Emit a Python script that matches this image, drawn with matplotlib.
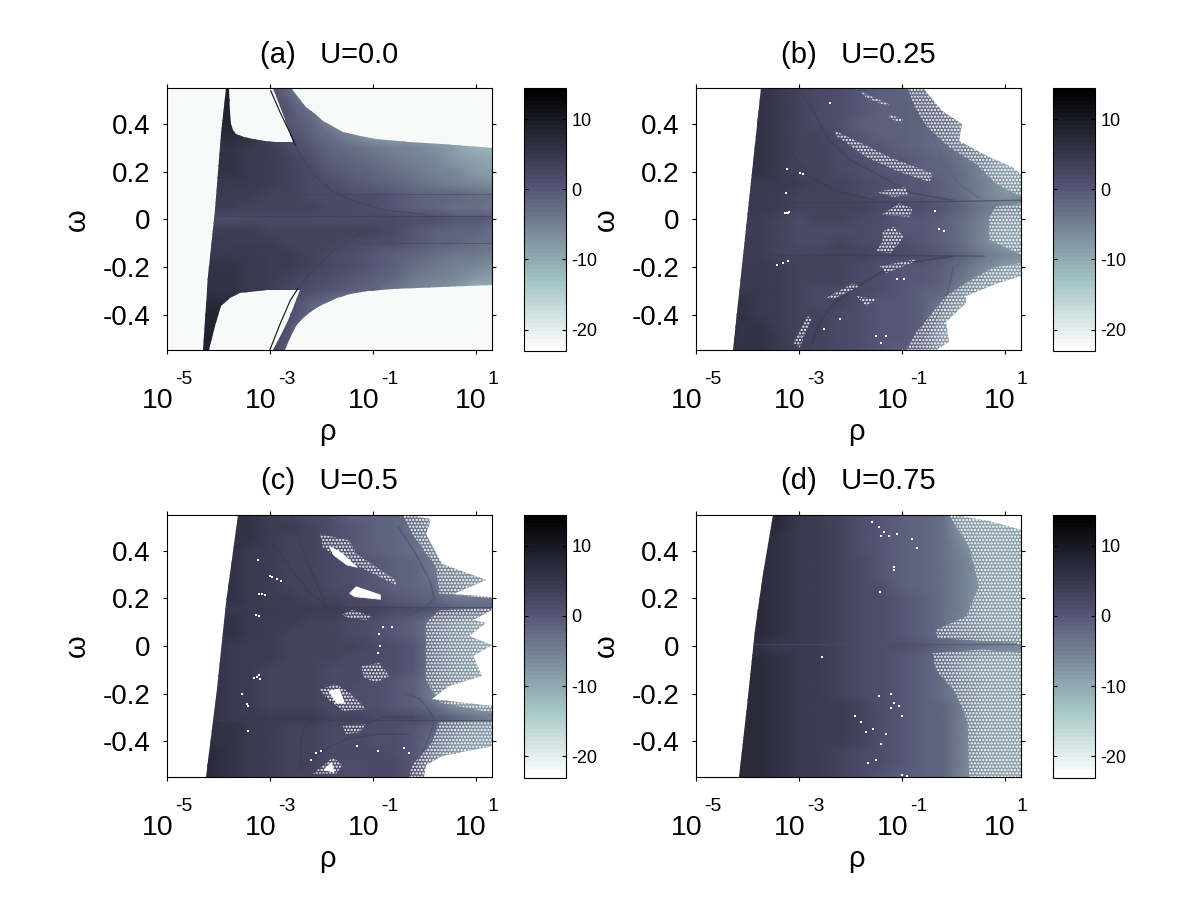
import matplotlib
matplotlib.use('Agg')

import numpy as np
import matplotlib.pyplot as plt
from matplotlib.patches import Polygon

plt.rcParams['font.family'] = ['Liberation Sans', 'DejaVu Sans']
plt.rcParams['hatch.linewidth'] = 1.1

# ==========================================
# DATA: log10(rho) columns, omega rows, colour value read per node
# ==========================================
log_rho = [-4.6, -4.2, -3.8, -3.4, -3.0, -2.6, -2.2, -1.8, -1.4, -1.0, -0.6, -0.2, 0.2, 0.6, 1.0, 1.4]
omega = [0.55, 0.5, 0.45, 0.4, 0.35, 0.3, 0.25, 0.2, 0.15, 0.1, 0.05, 0.0,
         -0.05, -0.1, -0.15, -0.2, -0.25, -0.3, -0.35, -0.4, -0.45, -0.5, -0.55]

values_a = [
    [9, 9, 9, 8, 2, -3, -6, -8, -9, -9, -9, -9, -9, -9, -9, -9],
    [9, 9, 9, 8, 2, -1, -5, -8, -9, -9, -9, -9, -9, -9, -9, -9],
    [8, 8, 8, 7, 2, 0, -3, -7, -9, -9, -9, -9, -9, -9, -9, -9],
    [8, 8, 8, 6, 2, 0, -2, -5, -8, -9, -9, -9, -9, -9, -9, -9],
    [7, 7, 7, 6, 3, 1, -1, -3, -6, -8, -9, -9, -10, -10, -10, -10],
    [6, 6, 6, 5, 4, 2, 0, -2, -3, -4, -5, -6, -7, -9, -11, -11],
    [6, 6, 6, 5, 4, 3, 1, -1, -2, -3, -4, -5, -6, -8, -9, -10],
    [6, 6, 6, 5, 4, 3, 2, 0, -1, -2, -3, -4, -5, -6, -8, -9],
    [5, 5, 5, 5, 4, 3, 2, 1, 0, -1, -2, -3, -4, -5, -6, -7],
    [4, 4, 4, 4, 3, 3, 2, 2, 1, 1, 0, -1, -2, -2, -3, -3],
    [4, 4, 4, 3, 3, 3, 3, 2, 2, 1, 0, -1, -2, -3, -3, -4],
    [2, 2, 1, 2, 2, 2, 2, 2, 1, 2, 2, 1, 1, 0, 0, -1],
    [4, 4, 4, 4, 3, 3, 3, 3, 3, 3, 2, 0, -1, -2, -2, -3],
    [5, 5, 4, 4, 4, 3, 3, 3, 2, 1, 1, 0, -1, -2, -3, -3],
    [5, 5, 5, 5, 4, 4, 3, 2, 1, 0, -1, -2, -3, -4, -4, -5],
    [6, 6, 6, 5, 4, 4, 3, 2, 1, 0, -1, -3, -4, -5, -6, -7],
    [6, 6, 6, 5, 4, 3, 2, 1, 0, -1, -2, -4, -5, -6, -8, -9],
    [6, 6, 6, 5, 4, 2, 1, 0, -1, -2, -4, -6, -7, -9, -11, -11],
    [7, 7, 7, 5, 3, 1, -1, -3, -6, -8, -9, -10, -10, -10, -10, -10],
    [8, 8, 8, 6, 3, 1, -2, -6, -9, -9, -9, -9, -9, -9, -9, -9],
    [8, 8, 8, 6, 3, 0, -4, -8, -9, -9, -9, -9, -9, -9, -9, -9],
    [9, 9, 9, 7, 3, 0, -5, -8, -9, -9, -9, -9, -9, -9, -9, -9],
    [9, 9, 9, 7, 3, -1, -6, -8, -9, -9, -9, -9, -9, -9, -9, -9],
]
values_b = [
    [6, 6, 6, 5, 3, 2, 1, 0, -1, -2, -2, -4, -8, -9, -9, -9],
    [6, 6, 6, 5, 3, 2, 1, 0, -1, -1, -2, -4, -8, -9, -9, -9],
    [6, 6, 6, 5, 3, 2, 1, 0, -1, -1, -2, -3, -7, -8, -9, -9],
    [6, 6, 6, 5, 3, 2, 1, -1, -1, -1, -2, -3, -6, -8, -9, -9],
    [6, 6, 6, 5, 3, 3, 1, 0, -1, -1, -2, -3, -5, -8, -9, -9],
    [6, 6, 6, 5, 3, 3, 2, 0, 0, -1, -2, -3, -4, -7, -9, -9],
    [6, 6, 6, 5, 3, 3, 2, 1, 0, 0, -1, -2, -4, -6, -9, -9],
    [6, 6, 6, 5, 3, 3, 2, 1, 0, 0, -1, -2, -3, -6, -9, -9],
    [5, 5, 5, 5, 4, 3, 3, 2, 1, 0, 0, -1, -3, -5, -8, -9],
    [5, 5, 5, 4, 3, 3, 3, 2, 1, 0, 0, -1, -3, -5, -7, -7],
    [5, 5, 5, 4, 3, 3, 3, 3, 2, 2, 1, 0, -2, -4, -5, -5],
    [4, 4, 4, 3, 2, 3, 3, 2, 1, 0, 0, -1, -3, -5, -8, -8],
    [4, 4, 4, 3, 2, 2, 2, 2, 1, 0, 0, -1, -3, -6, -9, -9],
    [4, 4, 4, 3, 2, 2, 3, 2, 1, 1, 0, -1, -3, -6, -9, -9],
    [4, 4, 4, 3, 3, 3, 3, 3, 2, 2, 1, 0, -2, -4, -6, -7],
    [5, 5, 5, 4, 3, 3, 3, 2, 1, 0, 0, -1, -3, -6, -8, -9],
    [5, 5, 5, 4, 3, 3, 3, 2, 1, 0, 0, -1, -4, -7, -9, -9],
    [5, 5, 5, 4, 3, 2, 2, 2, 1, 0, -1, -2, -6, -9, -9, -9],
    [6, 6, 5, 4, 3, 2, 3, 1, 0, 0, -1, -4, -8, -9, -9, -9],
    [6, 6, 5, 4, 3, 3, 2, 1, 0, 0, -1, -6, -9, -9, -9, -9],
    [6, 6, 6, 4, 3, 3, 2, 1, 0, 0, -1, -7, -9, -9, -9, -9],
    [6, 6, 6, 5, 3, 3, 2, 1, 0, 0, -2, -8, -9, -9, -9, -9],
    [6, 6, 6, 5, 3, 3, 2, 1, 0, -1, -3, -8, -9, -9, -9, -9],
]
values_c = [
    [7, 7, 6, 6, 4, 3, 2, 1, -1, -1, -2, -3, -7, -8, -8, -8],
    [7, 7, 6, 6, 4, 4, 3, 1, 0, -1, -2, -3, -6, -8, -8, -8],
    [7, 7, 6, 6, 4, 3, 3, 1, 0, -1, -2, -3, -6, -8, -8, -8],
    [7, 7, 6, 5, 4, 3, 3, 2, 0, -1, -2, -3, -5, -8, -8, -8],
    [7, 7, 6, 5, 4, 3, 3, 2, 1, 0, -1, -2, -4, -6, -8, -8],
    [7, 7, 6, 5, 4, 3, 3, 2, 1, 0, -1, -2, -4, -6, -6, -7],
    [6, 6, 6, 5, 4, 3, 3, 2, 1, 0, -1, -2, -3, -6, -8, -8],
    [6, 6, 6, 5, 4, 4, 3, 3, 2, 1, 0, -1, -2, -4, -4, -4],
    [6, 6, 5, 5, 5, 4, 4, 4, 3, 3, 2, 1, 0, -1, -2, -2],
    [6, 6, 6, 5, 4, 4, 3, 3, 2, 1, 0, -1, -4, -7, -8, -8],
    [6, 6, 6, 5, 4, 3, 3, 3, 2, 1, 0, -1, -4, -7, -8, -8],
    [6, 6, 5, 4, 4, 3, 3, 3, 3, 2, 1, 0, -4, -7, -8, -8],
    [6, 6, 5, 4, 4, 3, 3, 3, 2, 2, 1, 0, -4, -7, -8, -8],
    [6, 6, 5, 4, 3, 3, 3, 2, 2, 1, 1, 0, -4, -7, -8, -8],
    [6, 6, 5, 4, 3, 3, 3, 2, 2, 1, 0, -1, -4, -7, -8, -8],
    [6, 6, 5, 4, 3, 3, 3, 2, 1, 1, 0, -1, -5, -8, -8, -8],
    [6, 6, 5, 4, 3, 3, 3, 2, 1, 1, 0, -1, -3, -7, -8, -8],
    [6, 6, 5, 5, 4, 4, 4, 3, 3, 2, 2, 2, 0, -2, -4, -5],
    [6, 6, 6, 5, 4, 3, 3, 2, 2, 1, 1, 0, -2, -5, -7, -8],
    [6, 6, 6, 5, 4, 3, 3, 2, 2, 1, 1, 0, -3, -7, -8, -8],
    [7, 7, 6, 5, 4, 3, 3, 2, 2, 2, 1, 0, -4, -8, -8, -8],
    [7, 7, 6, 5, 4, 3, 3, 2, 1, 2, 2, 0, -6, -8, -8, -8],
    [7, 7, 6, 5, 4, 3, 3, 2, 1, 2, 2, 0, -6, -8, -8, -8],
]
values_d = [
    [7, 7, 7, 7, 5, 4, 3, 1, 0, -1, -2, -3, -9, -9, -9, -9],
    [7, 7, 7, 7, 5, 4, 3, 1, 0, -1, -2, -3, -8, -9, -9, -9],
    [7, 7, 7, 6, 5, 4, 3, 1, 0, -1, -2, -3, -7, -9, -9, -9],
    [7, 7, 7, 6, 5, 4, 3, 1, 0, -1, -2, -3, -6, -9, -9, -9],
    [7, 7, 7, 6, 5, 4, 3, 2, 0, -1, -2, -3, -5, -8, -9, -9],
    [7, 7, 7, 6, 5, 4, 3, 2, 0, -1, -2, -3, -5, -8, -9, -9],
    [7, 7, 7, 6, 5, 4, 3, 2, 1, -1, -2, -3, -5, -8, -9, -9],
    [7, 7, 7, 6, 5, 4, 3, 2, 1, 0, -1, -3, -5, -8, -9, -9],
    [7, 7, 7, 6, 5, 4, 3, 2, 1, 0, -1, -3, -5, -8, -9, -9],
    [7, 7, 7, 6, 5, 4, 3, 2, 1, 0, -1, -3, -6, -8, -9, -9],
    [7, 7, 7, 6, 5, 4, 3, 2, 1, 0, -1, -3, -5, -7, -8, -8],
    [6, 6, 6, 5, 5, 4, 3, 2, 1, 1, 0, -2, -3, -4, -5, -6],
    [7, 7, 7, 6, 5, 4, 3, 2, 1, 0, -1, -3, -6, -8, -9, -9],
    [7, 7, 7, 6, 5, 4, 3, 2, 1, 0, -1, -3, -7, -9, -9, -9],
    [7, 7, 7, 6, 5, 4, 3, 2, 1, 0, -1, -3, -6, -8, -9, -9],
    [7, 7, 7, 6, 5, 4, 3, 2, 1, 0, -1, -3, -6, -8, -9, -9],
    [7, 7, 7, 6, 5, 4, 4, 3, 1, 0, -1, -2, -5, -8, -9, -9],
    [7, 7, 7, 6, 5, 4, 4, 3, 1, 0, -1, -2, -5, -8, -9, -9],
    [7, 7, 7, 6, 5, 4, 4, 3, 1, 0, -1, -2, -5, -8, -9, -9],
    [7, 7, 7, 6, 5, 4, 4, 3, 1, 0, -1, -2, -5, -8, -9, -9],
    [7, 7, 7, 6, 5, 4, 3, 2, 1, 0, -1, -2, -5, -8, -9, -9],
    [7, 7, 7, 6, 5, 4, 3, 2, 1, 0, -1, -2, -5, -8, -9, -9],
    [7, 7, 7, 6, 5, 4, 3, 2, 0, -1, -1, -2, -6, -8, -9, -9],
]

# ==========================================
# DATA: region outlines as (log10 rho, omega)
# ==========================================
shape_a = [(-3.84, 0.55), (-3.79, 0.55), (-3.78, 0.45), (-3.76, 0.40), (-3.72, 0.375), (-3.65, 0.358), (-3.5, 0.345),
           (-3.32, 0.337), (-3.1, 0.327), (-2.87, 0.323), (-2.55, 0.323), (-2.72, 0.43), (-2.94, 0.55), (-2.58, 0.55),
           (-2.45, 0.515), (-2.29, 0.47), (-2.13, 0.44), (-1.97, 0.414), (-1.58, 0.365), (-1.25, 0.348),
           (-0.94, 0.337), (-0.29, 0.323), (0.35, 0.317), (1.32, 0.30), (1.32, -0.276), (0.35, -0.283),
           (-0.61, -0.294), (-1.1, -0.303), (-1.45, -0.315), (-1.7, -0.33), (-1.90, -0.35), (-2.07, -0.37),
           (-2.23, -0.392), (-2.38, -0.42), (-2.48, -0.447), (-2.6, -0.5), (-2.71, -0.55), (-2.94, -0.55),
           (-2.75, -0.47), (-2.61, -0.405), (-2.42, -0.297), (-3.06, -0.297), (-3.58, -0.311), (-3.77, -0.329),
           (-3.94, -0.364), (-4.06, -0.447), (-4.18, -0.55), (-4.30, -0.55), (-4.19, -0.239), (-4.06, 0.039),
           (-3.94, 0.358)]

left_b = [(-3.74, 0.55), (-4.27, -0.55)]
solid_b = [(-0.88, 0.55), (-0.75, 0.47), (-0.5, 0.386), (-0.08, 0.303), (0.44, 0.233), (0.83, 0.15),
           (1.32, 0.094), (1.32, 0.067), (0.83, 0.053), (0.7, 0.011), (0.7, -0.086), (1.32, -0.149),
           (1.32, -0.183), (0.76, -0.204), (0.25, -0.267), (-0.14, -0.322), (-0.4, -0.392), (-0.72, -0.475),
           (-0.92, -0.55)]
outer_b = [(-0.59, 0.55), (-0.21, 0.456), (0.18, 0.4), (0.12, 0.33), (0.7, 0.261), (1.15, 0.219),
           (1.32, 0.192), (1.32, -0.239), (0.86, -0.267), (0.25, -0.322), (0.25, -0.35), (-0.14, -0.433),
           (-0.08, -0.517), (-0.34, -0.55)]

left_c = [(-3.61, 0.55), (-3.84, 0.18), (-4.03, -0.18), (-4.23, -0.55)]
solid_c = [(-0.42, 0.55), (-0.23, 0.47), (0.23, 0.33), (0.29, 0.22), (1.32, 0.20), (1.32, 0.158),
           (0.29, 0.15), (0.03, 0.096), (0.03, -0.14), (0.29, -0.237), (1.32, -0.28), (1.32, -0.32),
           (0.29, -0.32), (0.16, -0.404), (-0.23, -0.50), (-0.29, -0.55)]
outer_c = [(-0.35, 0.55), (0.13, 0.533), (0.03, 0.47), (0.35, 0.346), (1.19, 0.276), (0.55, 0.22),
           (1.32, 0.207), (1.32, 0.151), (0.94, 0.11), (1.19, 0.096), (0.87, 0.04), (1.32, 0.005),
           (0.94, -0.043), (1.13, -0.126), (0.48, -0.168), (0.16, -0.224), (1.32, -0.251), (1.32, -0.418),
           (0.35, -0.46), (0.03, -0.50), (0.0, -0.55)]

left_d = [(-3.5, 0.55), (-3.69, 0.304), (-3.85, 0.068), (-4.01, -0.251), (-4.16, -0.55)]
solid_d = [(-0.08, 0.55), (0.31, 0.415), (0.44, 0.304), (0.5, 0.249), (0.25, 0.124), (-0.34, 0.068),
           (-0.3, 0.033), (1.21, 0.013), (1.32, 0.0), (1.32, -0.03), (0.57, -0.015), (-0.4, -0.03),
           (-0.34, -0.1), (0.05, -0.196), (0.28, -0.32), (0.31, -0.55)]
outer_d = [(-0.01, 0.55), (0.7, 0.526), (1.32, 0.485), (1.32, -0.55)]

# ==========================================
# DATA: white speckle clusters and single specks
# ==========================================
clusters_b = [
    [(-1.82, 0.539), (-1.24, 0.483), (-1.3, 0.476), (-1.69, 0.511)],
    [(-1.24, 0.44), (-0.98, 0.42), (-1.0, 0.405), (-1.25, 0.425)],
    [(-2.3, 0.372), (-1.69, 0.31), (-1.24, 0.261), (-0.4, 0.192), (-0.46, 0.157), (-1.05, 0.199), (-1.69, 0.261), (-2.27, 0.351)],
    [(-1.5, 0.115), (-0.92, 0.136), (-0.88, 0.101), (-1.17, 0.094)],
    [(-1.4, 0.018), (-1.05, 0.067), (-0.79, 0.046), (-0.85, 0.011)],
    [(-1.37, -0.051), (-1.17, -0.031), (-0.95, -0.072), (-1.21, -0.142), (-1.5, -0.135), (-1.37, -0.093)],
    [(-1.43, -0.197), (-0.75, -0.169), (-0.72, -0.176), (-1.3, -0.225)],
    [(-2.46, -0.329), (-1.95, -0.269), (-1.82, -0.281), (-2.34, -0.336)],
    [(-3.11, -0.517), (-2.82, -0.406), (-2.75, -0.419), (-2.98, -0.538)],
    [(-1.88, -0.322), (-1.5, -0.336), (-1.69, -0.364)],
]
specks_b = [(-3.27, 0.025), (-3.24, 0.025), (-3.21, 0.027), (-3.18, 0.03), (-3.22, 0.21), (-2.98, 0.195),
            (-2.92, 0.19), (-3.25, 0.11), (-3.42, -0.19), (-3.3, -0.185), (-3.2, -0.175), (-2.4, 0.49),
            (-0.36, 0.035), (-0.28, -0.04), (-0.18, -0.05), (-1.1, -0.25), (-2.5, -0.46), (-2.2, -0.42),
            (-1.5, -0.49), (-1.3, -0.49), (-1.4, -0.52), (0.5, -0.4), (1.3, -0.4), (-0.95, -0.25)]

clusters_c = [
    [(-2.03, 0.47), (-1.45, 0.443), (-1.32, 0.388), (-0.55, 0.276), (-0.55, 0.256), (-1.26, 0.332), (-1.58, 0.353), (-1.97, 0.415)],
    [(-1.61, 0.131), (-1.39, 0.151), (-1.03, 0.124), (-1.13, 0.11), (-1.45, 0.117)],
    [(-1.23, -0.085), (-0.87, -0.071), (-0.68, -0.126), (-0.94, -0.154), (-1.16, -0.133)],
    [(-2.03, -0.182), (-1.71, -0.161), (-1.45, -0.196), (-1.13, -0.265), (-1.58, -0.272), (-1.9, -0.217)],
    [(-2.16, -0.536), (-1.77, -0.467), (-1.58, -0.501), (-1.71, -0.536)],
    [(-1.58, -0.335), (-1.13, -0.328), (-1.26, -0.363), (-1.52, -0.369)],
]
solid_clusters_c = [
    [(-1.45, 0.221), (-1.32, 0.249), (-0.85, 0.214), (-0.85, 0.196), (-1.35, 0.207)],
    [(-1.85, 0.42), (-1.6, 0.39), (-1.3, 0.33), (-1.5, 0.34), (-1.75, 0.38)],
    [(-1.85, -0.19), (-1.65, -0.18), (-1.55, -0.24), (-1.7, -0.24)],
    [(-1.95, -0.52), (-1.8, -0.49), (-1.75, -0.53)],
]
specks_c = [(-3.2, 0.22), (-3.15, 0.22), (-3.1, 0.215), (-3.27, 0.13), (-3.2, 0.125), (-2.95, 0.29),
            (-2.85, 0.28), (-2.78, 0.275), (-3.0, 0.295), (-3.25, -0.13), (-3.2, -0.12), (-3.18, -0.14),
            (-3.3, -0.135), (-3.53, -0.2), (-3.45, -0.245), (-3.42, -0.25), (-3.43, -0.355), (-3.23, 0.36),
            (-0.88, 0.05), (-0.85, 0.0), (-0.9, -0.03), (-0.8, 0.08), (-0.62, 0.08), (-2.2, -0.48),
            (-2.1, -0.45), (-2.0, -0.44), (-1.3, -0.42), (-0.9, -0.44), (-0.4, -0.43), (-0.3, -0.45)]

clusters_d = []
specks_d = [(-2.55, -0.045), (-1.42, 0.225), (-1.15, 0.33), (-1.15, 0.32), (-1.57, 0.52), (-1.45, 0.5),
            (-1.35, 0.48), (-1.25, 0.46), (-1.4, 0.46), (-1.1, 0.47), (-0.8, 0.45), (-0.7, 0.41),
            (-1.45, -0.21), (-1.2, -0.2), (-1.15, -0.24), (-1.2, -0.26), (-1.05, -0.25), (-1.0, -0.295),
            (-1.9, -0.295), (-1.8, -0.32), (-1.7, -0.36), (-1.55, -0.35), (-1.3, -0.37), (-1.4, -0.41),
            (-1.65, -0.49), (-1.5, -0.48), (-1.0, -0.54), (-0.9, -0.545)]

# ==========================================
# DATA: dark filaments (points, colour value, width)
# ==========================================
filaments_a = [
    ([(-2.98, 0.54), (-2.8, 0.45), (-2.6, 0.36), (-2.5, 0.31)], 12, 0.8),
    ([(-2.5, 0.31), (-2.4, 0.27), (-2.2, 0.2), (-1.8, 0.12), (-1.4, 0.08), (-0.8, 0.04), (0.0, 0.02)], 4, 0.8),
    ([(-3.0, -0.55), (-2.8, -0.44), (-2.6, -0.34), (-2.45, -0.29)], 12, 0.8),
    ([(-2.45, -0.29), (-2.2, -0.22), (-1.8, -0.14), (-1.4, -0.08), (-1.0, -0.04)], 4, 0.8),
    ([(-4.0, 0.015), (1.32, 0.015)], 4, 0.9),
    ([(-3.8, 0.105), (1.32, 0.105)], 3, 0.7),
    ([(-3.8, -0.1), (1.32, -0.1)], 3, 0.7),
]
filaments_b = [
    ([(-2.8, -0.55), (-2.6, -0.44), (-2.35, -0.36), (-2.1, -0.32), (-1.7, -0.26), (-1.3, -0.21), (-0.8, -0.18), (0.0, -0.155)], 5, 1.3),
    ([(-4.2, -0.52), (-3.9, -0.38), (-3.5, -0.31)], 5, 1.0),
    ([(-4.0, 0.07), (-2.0, 0.07), (0.0, 0.075), (1.32, 0.08)], 4, 1.0),
    ([(-4.1, -0.155), (-2.0, -0.15), (0.6, -0.155)], 4, 1.0),
    ([(-3.0, 0.55), (-2.7, 0.45), (-2.4, 0.33), (-2.0, 0.25), (-1.4, 0.18), (-0.8, 0.11), (0.0, 0.08)], 4, 1.0),
    ([(-3.6, 0.45), (-3.2, 0.3), (-2.8, 0.18), (-2.3, 0.12), (-1.5, 0.08)], 5, 1.0),
    ([(-0.6, 0.55), (-0.5, 0.45), (-0.4, 0.35), (-0.2, 0.25), (0.1, 0.15), (0.5, 0.09)], -1, 1.0),
    ([(-0.8, -0.55), (-0.4, -0.45), (-0.1, -0.3), (0.0, -0.2)], 1, 1.0),
]
filaments_c = [
    ([(-3.8, 0.165), (1.32, 0.165)], 4, 1.0),
    ([(-4.0, -0.31), (1.32, -0.31)], 4, 1.0),
    ([(-0.5, 0.5), (-0.2, 0.4), (0.1, 0.28), (0.2, 0.2), (0.05, 0.165), (-0.3, 0.13)], 2, 1.2),
    ([(-0.35, -0.2), (-0.1, -0.22), (0.1, -0.27), (0.2, -0.31), (0.1, -0.38), (-0.1, -0.48), (-0.3, -0.55)], 2, 1.2),
    ([(-3.2, 0.55), (-2.9, 0.42), (-2.5, 0.3), (-2.2, 0.22), (-1.9, 0.17)], 5, 1.0),
    ([(-2.6, 0.55), (-2.35, 0.4), (-2.1, 0.27), (-1.9, 0.17)], 5, 1.0),
    ([(-2.2, 0.165), (-2.5, 0.1), (-2.8, 0.05)], 5, 0.9),
    ([(-2.4, -0.5), (-2.4, -0.4), (-2.3, -0.33), (-2.1, -0.3)], 5, 1.0),
    ([(-1.5, -0.36), (-0.8, -0.3), (-0.2, -0.3)], 4, 0.9),
    ([(-2.5, -0.53), (-2.0, -0.44), (-1.5, -0.39), (-0.9, -0.37), (-0.3, -0.37)], 4, 1.0),
]
filaments_d = [
    ([(-3.9, 0.01), (1.32, 0.01)], 1, 0.9),
    ([(-2.3, 0.08), (-2.35, 0.03), (-2.45, -0.03), (-2.45, -0.08), (-2.35, -0.12)], 4, 0.9),
]

titles = ["(a)   U=0.0", "(b)   U=0.25", "(c)   U=0.5", "(d)   U=0.75"]
x_ticks = [1e-5, 1e-3, 1e-1, 1e1]
x_exps = ["-5", "-3", "-1", "1"]
y_ticks = [-0.4, -0.2, 0, 0.2, 0.4]
y_labels = ["-0.4", "-0.2", "0", "0.2", "0.4"]
cbar_ticks = [-20, -10, 0, 10]
cbar_labels = ["-20", "-10", "0", "10"]

# ==========================================
# FIGUR
# ==========================================
W, H = 1201, 901
VMIN, VMAX = -23.1, 14.4
cmap = plt.get_cmap('bone_r', 64)
norm = plt.Normalize(VMIN, VMAX)


def to_rho(points):
    return [(10 ** p[0], p[1]) for p in points]


def prick(ax, points):
    ax.add_patch(Polygon(to_rho(points), closed=True, fc='none', ec='white', lw=0, hatch='.....', zorder=3))


def rita_panel(left, top, title, values, outline, fringe, clusters, solid_clusters, specks, filaments, bg):
    ax = fig.add_axes([left / W, 1 - (top + 262) / H, 325 / W, 262 / H])
    ax.set_facecolor(bg)
    mesh = ax.pcolormesh(10 ** np.array(log_rho), np.array(omega), np.array(values, dtype=float),
                         cmap=cmap, norm=norm, shading='gouraud', zorder=1)
    clip = Polygon(to_rho(outline), closed=True, transform=ax.transData, fc='none', ec='none')
    ax.add_patch(clip)
    mesh.set_clip_path(clip)

    for pts, val, lw in filaments:
        xs, ys = zip(*to_rho(pts))
        line, = ax.plot(xs, ys, color=cmap(norm(val)), lw=lw, alpha=1.0 if val > 10 else 0.55, zorder=2)
        if bg == 'white':
            line.set_clip_path(clip)

    if fringe is not None:
        prick(ax, fringe)
    for c in clusters:
        prick(ax, c)
    for c in solid_clusters:
        ax.add_patch(Polygon(to_rho(c), closed=True, fc='white', ec='white', lw=0.5, zorder=3))
    if specks:
        xs, ys = zip(*to_rho(specks))
        ax.scatter(xs, ys, s=1.6, marker='s', color='white', linewidths=0, zorder=3)

    ax.set_xscale('log')
    ax.set_xlim(1e-5, 10 ** 1.31)
    ax.set_ylim(-0.55, 0.55)
    ax.set_xticks(x_ticks)
    ax.set_xticklabels([])
    ax.minorticks_off()
    ax.set_yticks(y_ticks)
    ax.set_yticklabels(y_labels)
    ax.tick_params(axis='both', which='major', direction='out', length=3.2, width=0.8, labelsize=20,
                   top=True, right=True, pad=8.5)
    for tick, exp in zip(x_ticks, x_exps):
        shift = 6.5 if len(exp) == 2 else 10.5
        ax.annotate("10", xy=(tick, 0), xycoords=('data', 'axes fraction'), xytext=(shift, -58),
                    textcoords='offset pixels', ha='right', va='baseline', fontsize=20.5, annotation_clip=False)
        ax.annotate(exp, xy=(tick, 0), xycoords=('data', 'axes fraction'), xytext=(shift + 1.5, -34),
                    textcoords='offset pixels', ha='left', va='baseline', fontsize=14, annotation_clip=False)
    ax.set_xlabel("ρ", fontsize=21, va='center')
    ax.xaxis.set_label_coords(0.495, -82 / 262)
    ax.set_ylabel("ω", fontsize=21, va='center')
    ax.yaxis.set_label_coords(-89.5 / 325, 0.5)
    ax.set_title(title, fontsize=21, pad=18.5)

    # colorbar
    cax = fig.add_axes([(left + 357.5) / W, 1 - (top + 263) / H, 41.7 / W, 263 / H])
    cb = fig.colorbar(plt.cm.ScalarMappable(norm=norm, cmap=cmap), cax=cax)
    cb.set_ticks(cbar_ticks)
    cb.set_ticklabels(cbar_labels)
    cax.tick_params(direction='in', length=3.2, width=0.8, left=True, right=True, labelsize=13, pad=4)
    cax.minorticks_off()


def fringe_of(outer, solid):
    return outer + solid[::-1]


fig = plt.figure(figsize=(W / 100, H / 100), dpi=100)
rita_panel(166.7, 88.3, titles[0], values_a, shape_a, None, [], [], [], filaments_a, '#f8faf9')
rita_panel(695.7, 88.3, titles[1], values_b, left_b[:1] + outer_b + left_b[1:], fringe_of(outer_b, solid_b),
           clusters_b, [], specks_b, filaments_b, 'white')
rita_panel(166.7, 515, titles[2], values_c, left_c[:1] + outer_c + left_c[:0:-1], fringe_of(outer_c, solid_c),
           clusters_c, solid_clusters_c, specks_c, filaments_c, 'white')
rita_panel(695.7, 515, titles[3], values_d, left_d[:1] + outer_d + left_d[:0:-1], fringe_of(outer_d, solid_d),
           clusters_d, [], specks_d, filaments_d, 'white')

fig.savefig("out.png", dpi=100)
